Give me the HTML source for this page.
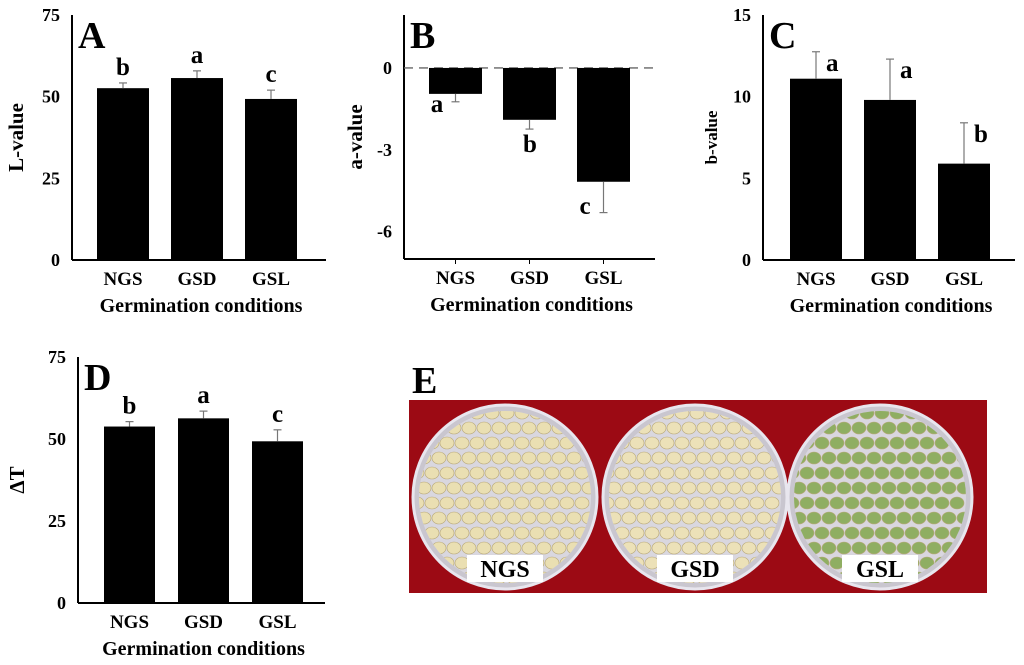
<!DOCTYPE html>
<html><head><meta charset="utf-8"><style>
html,body{margin:0;padding:0;background:#fff;}
svg{display:block;font-family:"Liberation Serif",serif;font-weight:bold;}
</style></head><body>
<svg id="fig" width="1024" height="665" viewBox="0 0 1024 665">
<g id="photo">
<defs>
<clipPath id="c1"><circle cx="505" cy="497" r="86"/></clipPath>
<clipPath id="c2"><circle cx="695" cy="497" r="86"/></clipPath>
<clipPath id="c3"><circle cx="880" cy="497" r="86"/></clipPath>
</defs>
<rect x="409" y="400" width="578" height="193" fill="#9c0a14"/>
</g>
</svg>
<script>
const cats = ["NGS","GSD","GSL"];
const lVals = [52.6, 55.7, 49.3];
const lErr = [1.6, 2.2, 2.7];
const lSig = ["b","a","c"];
const aVals = [-0.95, -1.9, -4.17];
const aErr = [0.29, 0.34, 1.13];
const aSig = ["a","b","c"];
const bVals = [11.1, 9.8, 5.9];
const bErr = [1.65, 2.5, 2.5];
const bSig = ["a","a","b"];
const tVals = [53.8, 56.3, 49.3];
const tErr = [1.5, 2.2, 3.5];
const tSig = ["b","a","c"];
const lTicks = [0,25,50,75];
const aTicks = [0,-3,-6];
const bTicks = [0,5,10,15];
const tTicks = [0,25,50,75];

const NS="http://www.w3.org/2000/svg";
const svg=document.getElementById('fig');
function mk(tag,attrs,parent,txt){const e=document.createElementNS(NS,tag);for(const k in attrs)e.setAttribute(k,attrs[k]);if(txt!==undefined)e.textContent=txt;(parent||svg).appendChild(e);return e;}

function panel(o){
  const g=mk('g',{});
  
  
  const y=v=>o.y0+(o.max-v)/(o.max-o.min)*(o.y1-o.y0);
  const zero=y(0);
  const ya=mk('line',{x1:o.ax,y1:o.y0,x2:o.ax,y2:o.y1,stroke:'#000','stroke-width':2},g);
  
  
  const xa=mk('line',{x1:o.ax,y1:o.y1,x2:o.xEnd,y2:o.y1,stroke:'#000','stroke-width':2},g);
  
  
  if(o.dash){const d=mk('line',{x1:o.ax,y1:zero,x2:o.xEnd,y2:zero,stroke:'#666','stroke-width':1.3,'stroke-dasharray':'9,6'},g);
    
    }
  o.ticks.forEach(t=>{const e=mk('text',{x:o.ax-12,y:y(t)+6,'text-anchor':'end','font-size':18},g,String(t));
    
    });
  o.vals.forEach((v,i)=>{
    const x0=o.bx+i*o.step, cx=x0+o.bw/2;
    const top=Math.min(y(v),zero), h=Math.abs(y(v)-zero);
    const r=mk('rect',{x:x0,y:top,width:o.bw,height:h,fill:'#000'},g);
    
    
    const ev=v+(v<0?-o.err[i]:o.err[i]);
    const el=mk('line',{x1:cx,y1:y(v),x2:cx,y2:y(ev),stroke:'#777','stroke-width':1.2},g);
    
    
    const ec=mk('line',{x1:cx-4,y1:y(ev),x2:cx+4,y2:y(ev),stroke:'#777','stroke-width':1.2},g);
    
    
    let sx,sy,anchor='middle';
    if(o.sigMode==='above'){sx=cx;sy=y(ev)-8;}
    else if(o.sigMode==='below'){sx=x0+[8,27,8][i];sy=y(v)+[18,32,32][i];}
    else {sx=cx+10;sy=y(ev)+19;anchor='start';}
    const s=mk('text',{x:sx,y:sy,'text-anchor':anchor,'font-size':25},g,o.sig[i]);
    
    
    if(o.xticks){const tk=mk('line',{x1:cx,y1:o.y1,x2:cx,y2:o.y1+5,stroke:'#000','stroke-width':1},g);
      
      }
    const xl=mk('text',{x:cx,y:o.y1+25,'text-anchor':'middle','font-size':19},g,cats[i]);
    
    
  });
  const xt=mk('text',{x:(o.ax+o.xEnd)/2+2,y:o.y1+52,'text-anchor':'middle','font-size':20},g,'Germination conditions');
  
  
  const yt=mk('text',{x:o.ytx,y:(o.y0+o.y1)/2,'text-anchor':'middle','font-size':o.ytSize||21,transform:`rotate(-90 ${o.ytx} ${(o.y0+o.y1)/2})`},g,o.ytitle);
  
  
  const pl=mk('text',{x:o.ax+6,y:o.y0+33,'font-size':38},g,o.letter);
  
  
}
panel({name:'panel-a-l-value',ax:72,y0:15,y1:260,xEnd:326,min:0,max:75,ticks:lTicks,vals:lVals,err:lErr,sig:lSig,bx:97,bw:52,step:74,sigMode:'above',ytitle:'L-value',ytx:23,letter:'A'});
panel({name:'panel-b-a-value',ax:404,y0:15,y1:259,xEnd:655,min:-7,max:1.94,ticks:aTicks,vals:aVals,err:aErr,sig:aSig,bx:429,bw:53,step:74,sigMode:'below',ytitle:'a-value',ytx:362,letter:'B',dash:true,xticks:true});
panel({name:'panel-c-b-value',ax:763,y0:15,y1:260,xEnd:1015,min:0,max:15,ticks:bTicks,vals:bVals,err:bErr,sig:bSig,bx:790,bw:52,step:74,sigMode:'right',ytitle:'b-value',ytx:717,ytSize:17,letter:'C'});
panel({name:'panel-d-delta-t',ax:78,y0:357,y1:603,xEnd:325,min:0,max:75,ticks:tTicks,vals:tVals,err:tErr,sig:tSig,bx:104,bw:51,step:74,sigMode:'above',ytitle:'ΔT',ytx:24,letter:'D'});

const photo=document.getElementById('photo');
const el=mk('text',{x:412,y:393,'font-size':38},photo,'E');


const dishes=[{cx:505,lab:'NGS',bean:'#eadfb2',clip:'c1'},{cx:695,lab:'GSD',bean:'#ece1b8',clip:'c2'},{cx:880,lab:'GSL',bean:'#8fae62',clip:'c3'}];
dishes.forEach(d=>{
  const c=mk('circle',{cx:d.cx,cy:497,r:92,fill:'#c9c6cf',stroke:'#e8e6ee','stroke-width':3},photo);
  
  
  mk('circle',{cx:d.cx,cy:497,r:86,fill:'#d9d7df'},photo);
  const bg=mk('g',{'clip-path':`url(#${d.clip})`},photo);
  for(let r=0;r<12;r++)for(let k=0;k<12;k++){
    const bx=d.cx-88+k*15+(r%2)*7, by=413+r*15;
    mk('ellipse',{cx:bx,cy:by,rx:7,ry:6,fill:d.bean,stroke:'#b8a878','stroke-width':0.6},bg);
  }
  const lb=mk('rect',{x:d.cx-38,y:555,width:76,height:27,fill:'#fff'},photo);
  
  
  const t=mk('text',{x:d.cx,y:577,'text-anchor':'middle','font-size':24},photo,d.lab);
  
  
});
</script>
</body></html>
